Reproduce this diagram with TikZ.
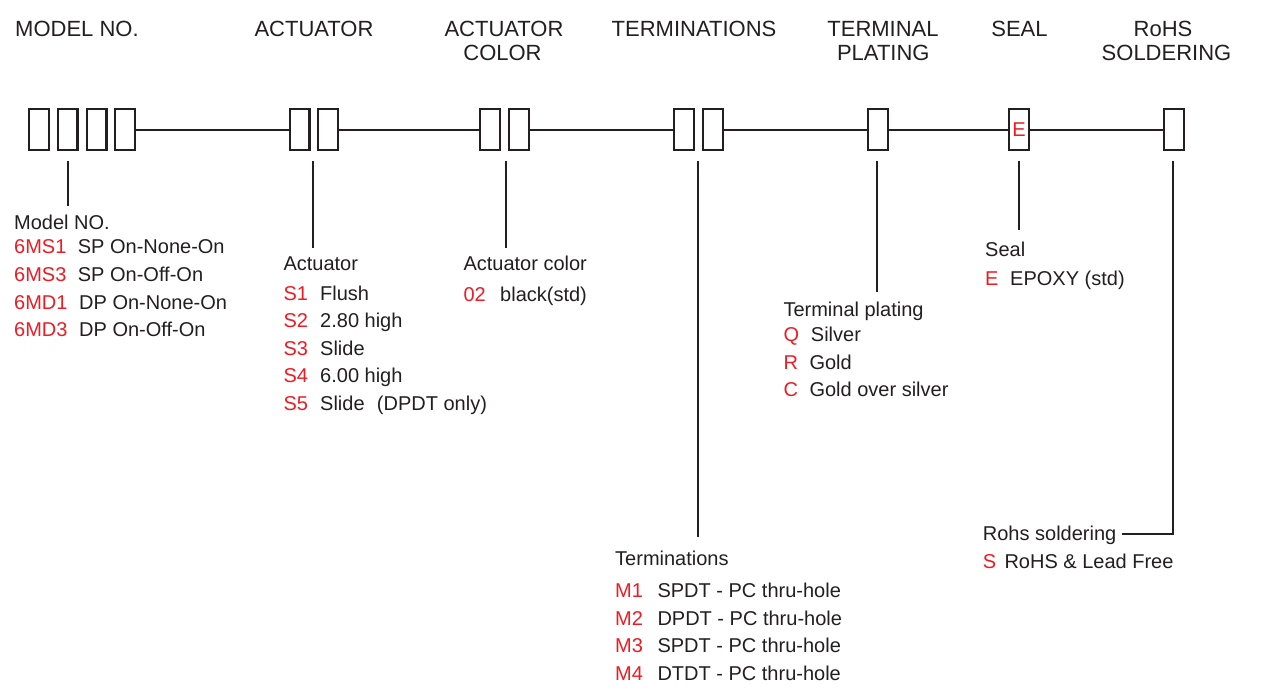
\documentclass[tikz,border=0pt]{standalone}
\usepackage{fontspec}
\setmainfont{Liberation Sans}
\definecolor{ink}{HTML}{231F20}
\definecolor{codered}{HTML}{ED1C24}
\newcommand\opt[3]{\makebox[#1pt][l]{\color{codered}#2}#3}
\begin{document}
\begin{tikzpicture}[x=1pt,y=-1pt,
  cell/.style={draw=ink, line width=2.3pt, minimum width=19.7pt, minimum height=40.7pt, inner sep=0pt, fill=white},
  link/.style={draw=ink, line width=2pt},
  lead/.style={draw=ink, line width=1.7pt},
  head/.style={font=\fontsize{22}{24}\selectfont, text=ink, inner sep=0pt, anchor=base},
  body/.style={font=\fontsize{20}{24}\selectfont, text=ink, inner sep=0pt, anchor=base west}]
\useasboundingbox[fill=white] (0,0) rectangle (1281,698);

% headers
\node[head, anchor=base west] (hmodel) at (15,36.7) {MODEL NO.};
\node[head] (hact) at (314,36.7) {ACTUATOR};
\node[head] (hcol1) at (504,36.7) {ACTUATOR};
\node[head] (hcol2) at (502.5,60.7) {COLOR};
\node[head] (hterm) at (694,36.7) {TERMINATIONS};
\node[head] (hpl1) at (883,36.7) {TERMINAL};
\node[head] (hpl2) at (883.3,60.7) {PLATING};
\node[head] (hseal) at (1019.5,36.7) {SEAL};
\node[head] (hrohs1) at (1163,36.7) {RoHS};
\node[head] (hrohs2) at (1166.5,60.7) {SOLDERING};

% boxes
\node[cell] (m1) at (39,129.5) {};
\node[cell] (m2) at (67.5,129.5) {};
\node[cell] (m3) at (96.5,129.5) {};
\node[cell] (m4) at (125,129.5) {};
\node[cell] (a1) at (299.5,129.5) {};
\node[cell] (a2) at (328,129.5) {};
\node[cell] (c1) at (490,129.5) {};
\node[cell] (c2) at (519,129.5) {};
\node[cell] (t1) at (684,129.5) {};
\node[cell] (t2) at (713,129.5) {};
\node[cell] (p1) at (878,129.5) {};
\node[cell] (s1) at (1019,129.5) {};
\node[cell] (r1) at (1174,129.5) {};
\node[font=\fontsize{20}{24}\selectfont, text=codered, inner sep=0pt] (se) at (s1.center) {E};

% main connectors
\draw[link] (m4.east) -- (a1.west);
\draw[link] (a2.east) -- (c1.west);
\draw[link] (c2.east) -- (t1.west);
\draw[link] (t2.east) -- (p1.west);
\draw[link] (p1.east) -- (s1.west);
\draw[link] (s1.east) -- (r1.west);

% leader coordinates
\coordinate (lm0) at (67.7,161);  \coordinate (lm1) at (67.7,206);
\coordinate (la0) at (313,161);   \coordinate (la1) at (313,248);
\coordinate (lc0) at (505.7,161); \coordinate (lc1) at (505.7,248);
\coordinate (lt0) at (697.7,161); \coordinate (lt1) at (697.7,537);
\coordinate (lp0) at (877,161);   \coordinate (lp1) at (877,291.7);
\coordinate (ls0) at (1019,161);  \coordinate (ls1) at (1019,230);
\coordinate (lr0) at (1173,161);  \coordinate (lr1) at (1173,534.3);
\coordinate (lr2) at (1122,534.3);

\draw[lead] (lm0) -- (lm1);
\draw[lead] (la0) -- (la1);
\draw[lead] (lc0) -- (lc1);
\draw[lead] (lt0) -- (lt1);
\draw[lead] (lp0) -- (lp1);
\draw[lead] (ls0) -- (ls1);
\draw[lead] (lr0) -- (lr1) -- (lr2);

% model list
\node[body] (tm) at (14,229) {Model NO.};
\node[body] (tm1) at (14,253.3) {\opt{63.7}{6MS1}{SP On-None-On}};
\node[body] (tm2) at (14,281) {\opt{63.7}{6MS3}{SP On-Off-On}};
\node[body] (tm3) at (14,309) {\opt{65}{6MD1}{DP On-None-On}};
\node[body] (tm4) at (14,336.7) {\opt{65}{6MD3}{DP On-Off-On}};

% actuator list
\node[body] (ta) at (283.3,270) {Actuator};
\node[body] (ta1) at (283.3,300) {\opt{36.7}{S1}{Flush}};
\node[body] (ta2) at (283.3,327.7) {\opt{36.7}{S2}{2.80 high}};
\node[body] (ta3) at (283.3,355) {\opt{36.7}{S3}{Slide}};
\node[body] (ta4) at (283.3,382.7) {\opt{36.7}{S4}{6.00 high}};
\node[body] (ta5) at (283.3,410.7) {\opt{36.7}{S5}{Slide\hspace{12.3pt}(DPDT only)}};

% actuator color
\node[body] (tc) at (463.3,270) {Actuator color};
\node[body] (tc1) at (463.3,301) {\opt{36.7}{02}{black(std)}};

% terminal plating
\node[body] (tp) at (783.3,316) {Terminal plating};
\node[body] (tp1) at (783.3,341.7) {\opt{27.4}{Q}{Silver}};
\node[body] (tp2) at (783.3,369.7) {\opt{26}{R}{Gold}};
\node[body] (tp3) at (783.3,396.7) {\opt{26}{C}{Gold over silver}};

% seal
\node[body] (ts) at (985,256.7) {Seal};
\node[body] (ts1) at (985,285) {\opt{25}{E}{EPOXY (std)}};

% terminations
\node[body] (tt) at (615,565) {Terminations};
\node[body] (tt1) at (615,597.7) {\opt{42.3}{M1}{SPDT - PC thru-hole}};
\node[body] (tt2) at (615,625) {\opt{42.3}{M2}{DPDT - PC thru-hole}};
\node[body] (tt3) at (615,652.7) {\opt{42.3}{M3}{SPDT - PC thru-hole}};
\node[body] (tt4) at (615,680) {\opt{42.3}{M4}{DTDT - PC thru-hole}};

% rohs
\node[body] (tr) at (982.7,540.7) {Rohs soldering};
\node[body] (tr1) at (982.7,568.3) {\opt{21.6}{S}{RoHS \& Lead Free}};
\end{tikzpicture}
\end{document}
